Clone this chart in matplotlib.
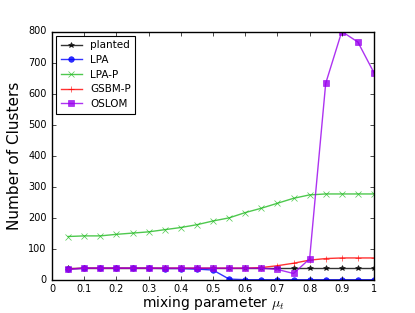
import matplotlib
matplotlib.use("Agg")
import matplotlib.pyplot as plt
import numpy as np

plt.style.use("classic")

mu = [0.05, 0.10, 0.15, 0.20, 0.25, 0.30, 0.35, 0.40, 0.45, 0.50,
      0.55, 0.60, 0.65, 0.70, 0.75, 0.80, 0.85, 0.90, 0.95, 1.00]
planted = [38, 38, 38, 38, 38, 38, 38, 38, 38, 38,
           38, 38, 38, 38, 38, 38, 38, 38, 38, 38]
lpa = [35, 38, 38, 38, 38, 38, 37, 37, 35, 32,
       3, 1, 1, 1, 1, 1, 1, 1, 1, 1]
lpa_p = [140, 142, 142, 147, 151, 155, 162, 169, 178, 190,
         200, 217, 231, 247, 263, 274, 277, 277, 277, 277]
gsbm_p = [36, 38, 38, 38, 38, 38, 38, 38, 38, 38,
          38, 38, 40, 46, 54, 64, 69, 71, 71, 71]
oslom = [35, 38, 38, 38, 38, 38, 38, 38, 38, 38,
         38, 38, 38, 34, 21, 68, 633, 800, 766, 667]

xticks = [0, 0.1, 0.2, 0.3, 0.4, 0.5, 0.6, 0.7, 0.8, 0.9, 1]
xticklabels = ["0", "0.1", "0.2", "0.3", "0.4", "0.5", "0.6", "0.7", "0.8", "0.9", "1"]
yticks = [0, 100, 200, 300, 400, 500, 600, 700, 800]

fig = plt.figure(figsize=(4.15, 3.13), dpi=100, facecolor="white")
ax = fig.add_axes([52/415, 1 - 280/313, (374-52)/415, (280-31.5)/313])

series = [
    ("planted", planted, "black", "*", 4),
    ("LPA", lpa, "blue", "o", 4),
    ("LPA-P", lpa_p, "#22bb22", "x", 4),
    ("GSBM-P", gsbm_p, "red", "+", 5),
    ("OSLOM", oslom, "#9900ee", "s", 5),
]
for name, vals, col, mk, ms in series:
    ax.plot(mu, vals, color=col, lw=1.0, alpha=0.8, marker=mk, markersize=ms,
            markeredgecolor=col, markerfacecolor=col, label=name)

ax.set_xlim(0, 1)
ax.set_ylim(0, 800)
ax.set_xticks(xticks)
ax.set_xticklabels(xticklabels)
ax.set_yticks(yticks)
ax.tick_params(labelsize=7, length=3)
ax.tick_params(axis="x", pad=3)
ax.set_xlabel(r"mixing parameter $\mu_t$", fontsize=10, labelpad=0)
ax.set_ylabel("Number of Clusters", fontsize=11, labelpad=4)
leg = ax.legend(loc="upper left", fontsize=7.5, numpoints=1, handlelength=2.0,
                borderpad=0.45, labelspacing=0.45, handletextpad=0.8,
                borderaxespad=0.4)
leg.get_frame().set_linewidth(0.8)

fig.savefig("out.png", dpi=100, facecolor="white")
